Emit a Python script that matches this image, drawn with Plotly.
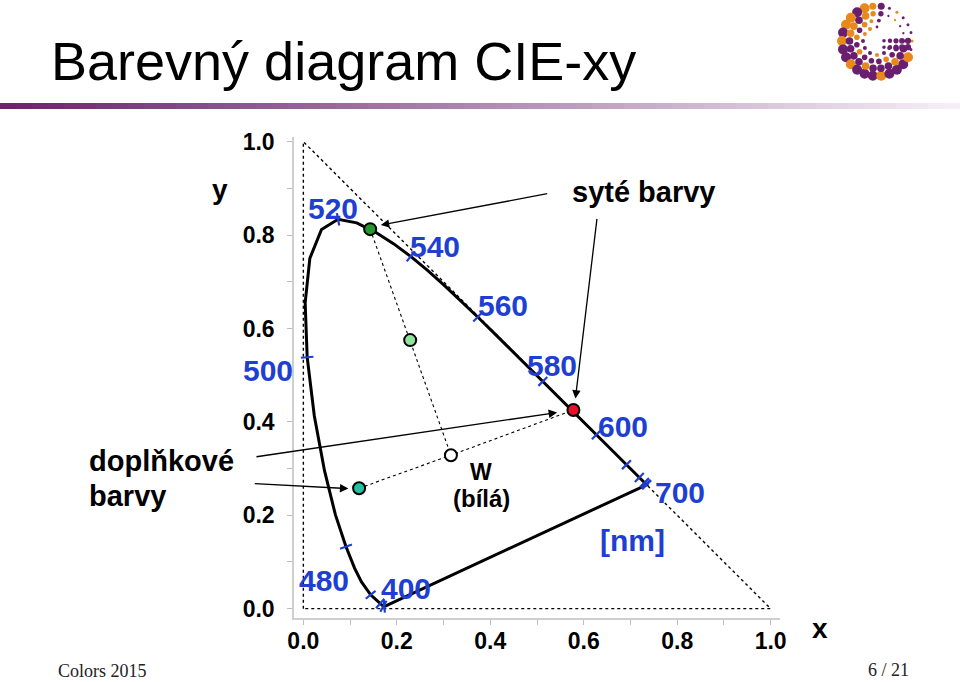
import math
import plotly.graph_objects as go

# ---------------- data ----------------
wavelengths = [380, 390, 400, 410, 420, 430, 440, 450, 460, 470, 475, 480, 485, 490, 495,
               500, 505, 510, 515, 520, 525, 530, 535, 540, 545, 550, 555, 560, 565, 570,
               575, 580, 585, 590, 595, 600, 610, 620, 630, 640, 650, 660, 680, 700]
locus_x = [0.1741, 0.1738, 0.1733, 0.1726, 0.1714, 0.1689, 0.1644, 0.1566, 0.1440, 0.1241,
           0.1096, 0.0913, 0.0687, 0.0454, 0.0235, 0.0082, 0.0039, 0.0139, 0.0389, 0.0743,
           0.1142, 0.1547, 0.1929, 0.2296, 0.2658, 0.3016, 0.3373, 0.3731, 0.4087, 0.4441,
           0.4788, 0.5125, 0.5448, 0.5752, 0.6029, 0.6270, 0.6658, 0.6915, 0.7079, 0.7190,
           0.7260, 0.7300, 0.7334, 0.7347]
locus_y = [0.0050, 0.0049, 0.0048, 0.0048, 0.0051, 0.0069, 0.0109, 0.0177, 0.0297, 0.0578,
           0.0868, 0.1327, 0.2007, 0.2950, 0.4127, 0.5384, 0.6548, 0.7502, 0.8120, 0.8338,
           0.8262, 0.8059, 0.7816, 0.7543, 0.7243, 0.6923, 0.6589, 0.6245, 0.5896, 0.5547,
           0.5202, 0.4866, 0.4544, 0.4242, 0.3965, 0.3725, 0.3340, 0.3083, 0.2920, 0.2809,
           0.2740, 0.2700, 0.2666, 0.2653]
tick_wavelengths = [400, 420, 440, 460, 480, 500, 520, 540, 560, 580, 600, 620, 640, 660, 680, 700]

triangle_x = [0, 0, 1, 0]
triangle_y = [0, 1, 0, 0]

# marked colours: saturated green, complementary light green, white W, saturated red, complementary teal
points_x = [0.143, 0.2286, 0.3158, 0.5779, 0.1193]
points_y = [0.8127, 0.5751, 0.3286, 0.4253, 0.2579]
points_colors = ["#24982e", "#8fe39a", "#ffffff", "#e5102a", "#22c2a2"]

line1_x = [0.143, 0.3158]          # green -> W
line1_y = [0.8127, 0.3286]
line2_x = [0.1193, 0.3158, 0.5779]  # teal -> W -> red
line2_y = [0.2579, 0.3286, 0.4253]

nm_labels = ["520", "540", "560", "580", "600", "700", "[nm]", "500", "480", "400"]
nm_label_x = [0.0636, 0.2822, 0.4268, 0.5323, 0.684, 0.805, 0.7037, -0.0756, 0.0444, 0.2201]
nm_label_y = [0.857, 0.7748, 0.6499, 0.5213, 0.3891, 0.2498, 0.1463, 0.5106, 0.0606, 0.0435]

text_labels = ["y", "syté barvy", "x", "W", "(bílá)"]
text_label_x = [-0.1785, 0.729, 1.105, 0.3808, 0.3808]
text_label_y = [0.8984, 0.8931, -0.0433, 0.2931, 0.2353]
text_label_size = [28, 29, 28, 23, 24]

side_labels = ["doplňkové", "barvy"]
side_label_x = [-0.4635, -0.4635]
side_label_y = [0.3167, 0.2417]

arrow_tail_x = [0.525, 0.6287, -0.1035, -0.1071]
arrow_tail_y = [0.8892, 0.8378, 0.3248, 0.2678]
arrow_head_x = [0.1658, 0.5822, 0.543, 0.0964]
arrow_head_y = [0.8213, 0.4499, 0.42, 0.2571]

tick_vals = [0.0, 0.1, 0.2, 0.3, 0.4, 0.5, 0.6, 0.7, 0.8, 0.9, 1.0]
tick_text = ["0.0", "", "0.2", "", "0.4", "", "0.6", "", "0.8", "", "1.0"]

X_RANGE = [-0.02, 1.02]
Y_RANGE = [-0.02, 1.01]

# ---------------- layout helpers ----------------
W_FIG, H_FIG = 960, 682
ML, MR, MT, MB = 294, 180, 137, 64
PW = W_FIG - ML - MR
PH = H_FIG - MT - MB


def pxx(x):
    return (x - ML) / PW


def pxy(y):
    return (H_FIG - MB - y) / PH


def dxp(x):  # data x -> paper x (same linear scale as the axis)
    return (x - X_RANGE[0]) / (X_RANGE[1] - X_RANGE[0])


def dyp(y):  # data y -> paper y
    return (y - Y_RANGE[0]) / (Y_RANGE[1] - Y_RANGE[0])


BLUE = "#1e3fd2"
FONT = "Liberation Sans, Arial, sans-serif"

fig = go.Figure()

# dotted triangle
fig.add_trace(go.Scatter(x=triangle_x, y=triangle_y, mode="lines",
                         line=dict(color="black", width=1.4, dash="dot"),
                         hoverinfo="skip", showlegend=False))

# spectral locus (closed with the purple line)
fig.add_trace(go.Scatter(x=locus_x + [locus_x[0]], y=locus_y + [locus_y[0]], mode="lines",
                         line=dict(color="black", width=3),
                         hoverinfo="skip", showlegend=False))

# wavelength tick marks perpendicular to the locus
tx, ty, ang = [], [], []
for w in tick_wavelengths:
    i = wavelengths.index(w)
    i0 = max(i - 1, 0)
    i1 = min(i + 1, len(wavelengths) - 1)
    dx = locus_x[i1] - locus_x[i0]
    dy = locus_y[i1] - locus_y[i0]
    tx.append(locus_x[i])
    ty.append(locus_y[i])
    ang.append(math.degrees(math.atan2(dx, dy)))
fig.add_trace(go.Scatter(x=tx, y=ty, mode="markers",
                         marker=dict(symbol="line-ew", size=9, angle=ang,
                                     line=dict(color=BLUE, width=2.2)),
                         hoverinfo="skip", showlegend=False, cliponaxis=False))

# dotted construction lines
for lx, ly in [(line1_x, line1_y), (line2_x, line2_y)]:
    fig.add_trace(go.Scatter(x=lx, y=ly, mode="lines",
                             line=dict(color="black", width=1.1, dash="dot"),
                             hoverinfo="skip", showlegend=False))

# marked points
fig.add_trace(go.Scatter(x=points_x, y=points_y, mode="markers",
                         marker=dict(size=12, color=points_colors,
                                     line=dict(color="black", width=2)),
                         hoverinfo="skip", showlegend=False, cliponaxis=False))

annotations = []
for t, x, y in zip(nm_labels, nm_label_x, nm_label_y):
    annotations.append(dict(x=dxp(x), y=dyp(y), xref="paper", yref="paper", text=t,
                            showarrow=False, xanchor="center", yanchor="middle",
                            font=dict(family=FONT, size=30, color=BLUE, weight="bold")))
for t, x, y, s in zip(text_labels, text_label_x, text_label_y, text_label_size):
    annotations.append(dict(x=dxp(x), y=dyp(y), xref="paper", yref="paper", text=t,
                            showarrow=False, xanchor="center", yanchor="middle",
                            font=dict(family=FONT, size=s, color="black", weight="bold")))
for t, x, y in zip(side_labels, side_label_x, side_label_y):
    annotations.append(dict(x=dxp(x), y=dyp(y), xref="paper", yref="paper", text=t,
                            showarrow=False, xanchor="left", yanchor="middle",
                            font=dict(family=FONT, size=29, color="black", weight="bold")))
for hx, hy, tx_, ty_ in zip(arrow_head_x, arrow_head_y, arrow_tail_x, arrow_tail_y):
    annotations.append(dict(x=hx, y=hy, xref="x", yref="y", ax=tx_, ay=ty_,
                            axref="x", ayref="y", text="", showarrow=True,
                            arrowhead=2, arrowsize=1.3, arrowwidth=1.3,
                            arrowcolor="black", standoff=0, startstandoff=0))

# slide title and footer
annotations.append(dict(x=pxx(49), y=pxy(61), xref="paper", yref="paper",
                        text="Barevný diagram CIE-xy", showarrow=False,
                        xanchor="left", yanchor="middle",
                        font=dict(family=FONT, size=54, color="black")))
annotations.append(dict(x=pxx(56), y=pxy(671), xref="paper", yref="paper",
                        text="Colors 2015", showarrow=False, xanchor="left", yanchor="middle",
                        font=dict(family="Liberation Serif, serif", size=18, color="#222222")))
annotations.append(dict(x=pxx(911), y=pxy(670), xref="paper", yref="paper",
                        text="6 / 21", showarrow=False, xanchor="right", yanchor="middle",
                        font=dict(family="Liberation Serif, serif", size=18, color="#222222")))

shapes = []
# gradient rule under the title
n_seg = 60
c0 = (104, 36, 108)
c1 = (246, 238, 246)
for k in range(n_seg):
    f = k / (n_seg - 1)
    col = tuple(int(round(c0[j] + (c1[j] - c0[j]) * f)) for j in range(3))
    x0 = k * W_FIG / n_seg
    x1 = (k + 1) * W_FIG / n_seg + 0.5
    shapes.append(dict(type="rect", xref="paper", yref="paper",
                       x0=pxx(x0), x1=pxx(x1), y0=pxy(109), y1=pxy(103),
                       line=dict(width=0), fillcolor="rgb(%d,%d,%d)" % col, layer="below"))

# decorative dotted logo (top right)
ORANGE = "#e8891c"
PURPLE = "#6a1f6e"
cx, cy = 877, 41
rings = [(35, 5.0, 26), (27.5, 3.8, 22), (20.5, 2.8, 17), (14, 2.0, 12)]
for ri, (r, base, n) in enumerate(rings):
    for k in range(n):
        th = 360.0 * k / n
        rad = math.radians(th)
        if 0 <= th < 75 or th > 345:
            fac = 0.3
        elif 75 <= th < 110:
            fac = 0.7
        else:
            fac = 1.0
        if 80 <= th <= 190:
            col = ORANGE if (k + ri) % 3 != 0 else PURPLE
        else:
            col = PURPLE if (k + ri) % 4 != 0 else ORANGE
        rr = base * fac
        if rr < 0.9:
            continue
        x = cx + r * math.cos(rad)
        y = cy - r * math.sin(rad)
        shapes.append(dict(type="circle", xref="paper", yref="paper",
                           x0=pxx(x - rr), x1=pxx(x + rr), y0=pxy(y + rr), y1=pxy(y - rr),
                           line=dict(width=0), fillcolor=col))
# crossbar of the "G"
for k, (bx, br) in enumerate([(884, 1.8), (890, 2.2), (896, 2.6), (902, 2.9), (908, 3.1)]):
    for dyy in (-3.2, 3.2):
        shapes.append(dict(type="circle", xref="paper", yref="paper",
                           x0=pxx(bx - br), x1=pxx(bx + br),
                           y0=pxy(cy + 3 + dyy + br), y1=pxy(cy + 3 + dyy - br),
                           line=dict(width=0), fillcolor=PURPLE))

axis_common = dict(showgrid=False, zeroline=False, showline=True, linecolor="#cfcfcf",
                   linewidth=1.5, ticks="outside", ticklen=5, tickcolor="#bdbdbd",
                   tickwidth=1.2, tickvals=tick_vals, ticktext=tick_text,
                   tickfont=dict(family=FONT, size=23, color="black", weight="bold"))

fig.update_layout(
    width=W_FIG, height=H_FIG, autosize=False,
    margin=dict(l=ML, r=MR, t=MT, b=MB, pad=0),
    paper_bgcolor="white", plot_bgcolor="white",
    xaxis=dict(range=X_RANGE, ticklabelstandoff=-3, **axis_common),
    yaxis=dict(range=Y_RANGE, ticklabelstandoff=8, **axis_common),
    annotations=annotations, shapes=shapes, showlegend=False,
)

fig.write_html("out.html")
